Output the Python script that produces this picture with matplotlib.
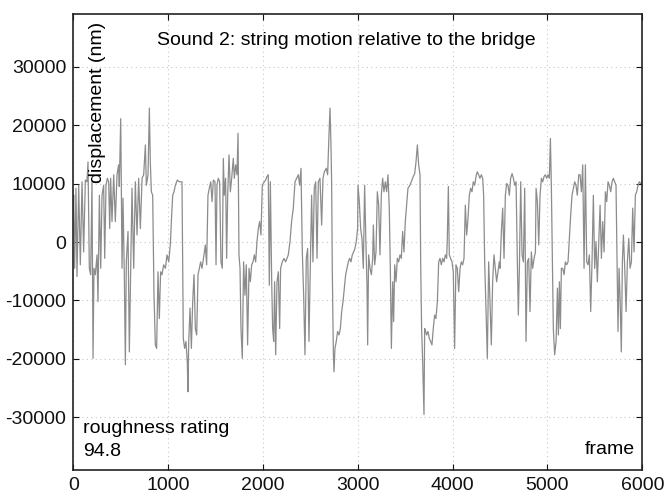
import matplotlib
matplotlib.use("Agg")
import matplotlib.pyplot as plt

# waveform (frame, displacement in nm)
frames = [
    0, 4, 14, 28, 39, 57, 74, 92, 109, 127, 144, 155, 169, 183, 197, 208, 218, 232, 250, 260,
    275, 289, 303, 320, 331, 345, 359, 373, 384, 394, 408, 426, 443, 461, 478, 485, 500, 507, 514, 524,
    538, 549, 559, 577, 591, 605, 619, 637, 654, 672, 689, 707, 725, 742, 760, 770, 788, 802, 812, 823,
    837, 851, 865, 879, 893, 907, 921, 935, 953, 971, 988, 1006, 1023, 1034, 1048, 1062, 1076, 1097, 1118, 1146,
    1160, 1174, 1188, 1202, 1209, 1217, 1231, 1245, 1259, 1273, 1287, 1301, 1315, 1329, 1343, 1357, 1378, 1392, 1406, 1420,
    1434, 1449, 1463, 1477,
    1494, 1505, 1515, 1529, 1543, 1557, 1571, 1582, 1592, 1606, 1617, 1628, 1642, 1656, 1670, 1687, 1698, 1712, 1726, 1737,
    1747, 1758, 1768, 1782, 1796, 1810, 1824, 1838, 1853, 1867, 1881, 1895, 1909, 1923, 1937, 1951, 1965, 1979, 1993, 2014,
    2028, 2042, 2056, 2067, 2078, 2092, 2102, 2113, 2123, 2134, 2148, 2162, 2176, 2186, 2204, 2222, 2239, 2253, 2267, 2285,
    2302, 2320, 2338, 2355, 2373, 2387, 2401, 2415, 2429, 2443, 2457, 2471, 2485, 2499, 2513, 2527, 2541, 2556, 2570, 2584,
    2601, 2619, 2633, 2647, 2668, 2682, 2696, 2707, 2717, 2724, 2731, 2742, 2749, 2759, 2773, 2787, 2802, 2816, 2830, 2844,
    2858, 2872, 2886, 2900, 2914, 2928, 2942, 2956, 2970, 2984, 2998,
    3002, 3016, 3030, 3044, 3058, 3072, 3086, 3097, 3104, 3114, 3129, 3143, 3157, 3164, 3178, 3192, 3206, 3220, 3234, 3248,
    3262, 3276, 3290, 3304, 3318, 3332, 3343, 3354, 3368, 3378, 3389, 3403, 3417, 3431, 3445, 3459, 3473, 3487, 3501, 3515,
    3529, 3550, 3571, 3585, 3600, 3614, 3628, 3642, 3656, 3663, 3673, 3684, 3698, 3705, 3716, 3726, 3740, 3754, 3768, 3782,
    3796, 3810, 3824, 3839, 3853, 3867, 3881, 3895, 3909, 3923, 3937, 3944, 3955, 3965, 3979, 3993, 4007, 4021, 4035, 4049,
    4064, 4078, 4092, 4106, 4120, 4134, 4148, 4162, 4176, 4190, 4204, 4218, 4232, 4250, 4260, 4274, 4288, 4303, 4317, 4327,
    4338, 4352, 4366, 4380, 4394, 4408, 4422, 4436, 4450, 4464, 4478, 4492,
    4500, 4514, 4528, 4542, 4556, 4570, 4584, 4598, 4612, 4627, 4641, 4655, 4669, 4683, 4693, 4704, 4718, 4732, 4746, 4760,
    4774, 4788, 4802, 4816, 4830, 4844, 4859, 4873, 4880, 4894, 4908, 4922, 4936, 4950, 4964, 4978, 4992, 5006, 5020, 5031,
    5041, 5052, 5062, 5076, 5091, 5105, 5115, 5126, 5136, 5147, 5161, 5175, 5189, 5203, 5217, 5231, 5245, 5259, 5273, 5287,
    5301, 5315, 5330, 5344, 5358, 5372, 5386, 5400, 5414, 5428, 5442, 5456, 5470, 5484, 5498, 5512, 5526, 5540, 5555, 5569,
    5583, 5597, 5611, 5625, 5639, 5653, 5667, 5681, 5695, 5709, 5723, 5734, 5744, 5755, 5765, 5779, 5790, 5801, 5815, 5829,
    5843, 5857, 5871, 5885, 5899, 5913, 5927, 5941, 5955, 5969, 5983, 6000,
]
displacement = [
    6000, 8000, -4500, 9200, -5900, 9700, -3900, 10300, -1700, 10600, 10300, 13700, -4500, -5600, 10300, -19900, -4500, -5600, -2200, -10200,
    8000, -4500, 8000, 9700, -2800, 9700, 10900, 10300, 2300, 10900, 3500, 11500, 3500, 11500, 13200, 9500, 21100, 9200, -4500, 7500,
    -5600, -21000, -3400, 1800, -18800, -4500, 9200, -4500, 10300, 1200, 10900, 2300, 10900, 11500, 16600, 9700, 11500, 22900, 13700, 8600,
    8000, -9100, -17600, -18200, -5100, -13100, -5100, -5600, -3900, -4500, -2200, -3400, -500, 3500, 8000, 8600, 9700, 10600, 10300, 10300,
    -16500, -18200, -17000, -20500, -25600, -17000, -11300, -18200, -10200, -5600, -14800, -15900, -5600, -4500, -3400, -4500, -2200, -500, -3900, 8000,
    9200, 10300, 6900, 10600,
    10300, -3900, 9700, 10900, 10300, -3400, -4500, 14300, 8000, 10900, -2800, 8000, 14900, 8600, 10900, 14300, 10900, 13200, 11500, 18600,
    -2200, -4500, -14800, -19900, -3400, -9100, -3900, -17600, -4500, -6800, -3900, -3400, -2200, -3400, 100, 2300, 3500, 1200, 9700, 10300,
    10600, 11200, 11500, -7400, 10300, -6800, -14800, -17000, -6800, -19300, -6800, -5100, -14800, -4500, -3400, -2800, -3400, -2800, -2200, 100,
    3500, 5800, 10300, 10900, 11500, 9700, 12600, -1700, -9100, -19300, -2800, -1100, -17000, -4500, 8000, -3400, 9200, 10300, -2800, 10300,
    10900, 2900, 10900, 12000, 12600, 11500, 18300, 22900, 16600, 10300, -4500, -18800, -22200, -18200, -17000, -15300, -15900, -14800, -11900, -10200,
    -7900, -5600, -4500, -3400, -2800, -3400, -2200, -1700, -1100, 100, 2300,
    9700, 6900, 2300, 600, -4500, 9700, -500, -7400, -17600, -2200, -4500, -5600, -2800, 2900, -3900, -1700, 8600, 6300, -2200, 8000,
    10900, 8600, 10300, 8600, 11500, 5800, -4500, -18200, -6800, -13600, -3900, -6800, -2800, -3400, -2200, -2800, 1800, -1700, 3500, 6300,
    9200, 9700, 10600, 11200, 11700, 13700, 16600, 13200, 11500, -3400, -14800, -20500, -29500, -14800, -15300, -15900, -15300, -16500, -17000, -17600,
    -14800, -12500, -13100, -10200, -3400, -2800, -3900, -2800, -3400, -2200, -2800, 600, 9500, -2200, -2800, -3400, -5100, -18200, -3900, -4500,
    -8500, -4500, -3400, -3900, -2800, 6300, 1200, 4000, 8000, 9200, 8600, 10300, 9700, 11500, 12000, 11500, 10900, 11500, 10900, 8000,
    -3400, -11900, -19900, -3400, -10200, -17600, -6800, -2200, -4500, -6800, -5100, -3400,
    -4500, 1800, 5800, -2800, 8000, 10000, 9700, 8000, 10900, 11700, 10900, 9700, 10300, -3900, -12500, -4500, 10300, -2200, -3400, 9200,
    -17000, -3400, -2800, -11900, -1700, -4500, -2800, -1700, 9200, 6900, -500, 8000, 10900, 10300, 11200, 11500, 10900, 11500, 10900, 17700,
    9700, -3400, -14800, -19300, -17000, -7900, -15900, -6800, -14800, -4500, -4500, -5600, -3400, -3900, -3400, 600, 4600, 8000, 9200, 10300,
    9700, 8000, 11500, 11500, 8600, 13200, -4500, 13200, -3400, -3900, -2200, -11900, -3400, 8000, -4500, 100, -6800, -500, 6300, -2800,
    3500, -1700, 8600, 6900, 10300, 9700, 8600, 10300, 10900, 10300, 9700, -3400, -15300, -4500, -9100, -18800, -3400, 1200, -4500, -11900,
    -3400, 600, -4500, -3400, 5800, -1700, 8000, 8600, 9700, 10300, 10000, 10300,
]

x_ticks = [0, 1000, 2000, 3000, 4000, 5000, 6000]
y_ticks = [-30000, -20000, -10000, 0, 10000, 20000, 30000]

plt.rcParams['font.family'] = ['Liberation Sans', 'DejaVu Sans']
plt.rcParams['axes.unicode_minus'] = False

fs = 14

fig = plt.figure(figsize=(6.64, 4.95), dpi=100)
ax = fig.add_axes([0.1104, 0.0505, 0.8569, 0.9212])

ax.plot(frames, displacement, color='#8c8c8c', linewidth=0.9)

ax.set_xlim(0, 6000)
ax.set_ylim(-39000, 39000)
ax.set_xticks(x_ticks)
ax.set_yticks(y_ticks)
ax.grid(True, linestyle=(0, (1, 3)), color='#c8c8c8', linewidth=0.8)
ax.tick_params(direction='in', length=4, top=True, right=True, labelsize=fs, colors='#111111')
ax.tick_params(axis='x', pad=5)
ax.tick_params(axis='y', pad=5)
for sp in ax.spines.values():
    sp.set_linewidth(1.2)
    sp.set_color('#222222')

ax.text(0.479, 0.943, "Sound 2: string motion relative to the bridge", fontsize=fs,
        ha='center', va='center', transform=ax.transAxes)
ax.text(0.043, 0.982, "displacement (nm)", fontsize=fs, rotation=90,
        ha='center', va='top', transform=ax.transAxes)
ax.text(0.017, 0.092, "roughness rating", fontsize=fs, ha='left', va='center', transform=ax.transAxes)
ax.text(0.017, 0.040, "94.8", fontsize=fs, ha='left', va='center', transform=ax.transAxes)
ax.text(0.987, 0.045, "frame", fontsize=fs, ha='right', va='center', transform=ax.transAxes)

fig.savefig("out.png", dpi=100)
